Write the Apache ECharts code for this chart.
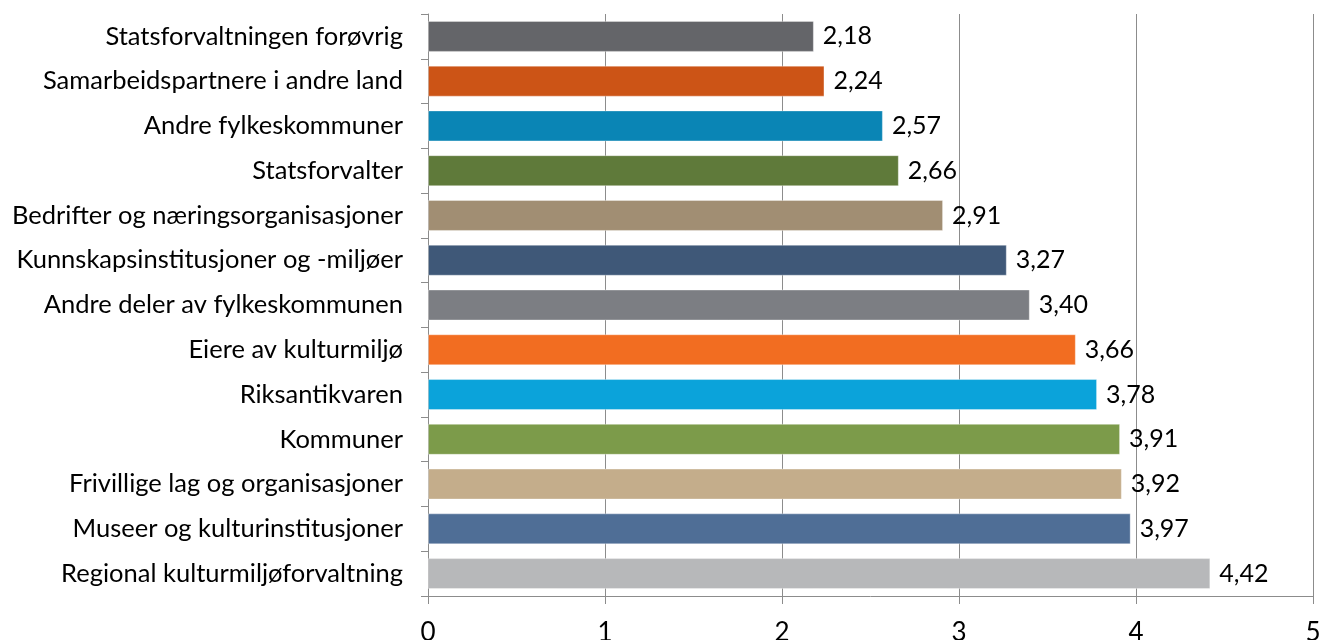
<!DOCTYPE html>
<html>
<head>
<meta charset="utf-8">
<script src="https://cdn.jsdelivr.net/npm/echarts@6/dist/echarts.min.js"></script>
<style>html,body{margin:0;padding:0;background:#fff;}#c{width:1330px;height:640px;}</style>
</head>
<body>
<div id="c"></div>
<script>
const categories = [
  "Statsforvaltningen forøvrig",
  "Samarbeidspartnere i andre land",
  "Andre fylkeskommuner",
  "Statsforvalter",
  "Bedrifter og næringsorganisasjoner",
  "Kunnskapsinstitusjoner og -miljøer",
  "Andre deler av fylkeskommunen",
  "Eiere av kulturmiljø",
  "Riksantikvaren",
  "Kommuner",
  "Frivillige lag og organisasjoner",
  "Museer og kulturinstitusjoner",
  "Regional kulturmiljøforvaltning"
];
const values = [2.18, 2.24, 2.57, 2.66, 2.91, 3.27, 3.40, 3.66, 3.78, 3.91, 3.92, 3.97, 4.42];
const colors = ["#646569", "#CC5416", "#0A85B5", "#5F7A3A", "#A18E73", "#3F5878", "#7C7E83", "#F26D21", "#0BA3DA", "#7C9B4A", "#C4AD8B", "#4F6E96", "#B7B8BA"];
const xTicks = [0, 1, 2, 3, 4, 5];

const FONT = "Lato";
const chart = echarts.init(document.getElementById('c'), null, {renderer: 'canvas'});
chart.setOption({
  animation: false,
  backgroundColor: '#ffffff',
  grid: {left: 428, right: 17, top: 14, bottom: 44, containLabel: false, outerBoundsMode: 'none'},
  xAxis: {
    type: 'value', min: xTicks[0], max: xTicks[xTicks.length - 1], interval: 1,
    axisLine: {show: true, lineStyle: {color: '#8c8c8c', width: 1}},
    axisTick: {show: true, length: 8, lineStyle: {color: '#8c8c8c'}},
    splitLine: {show: true, lineStyle: {color: '#8c8c8c', width: 1}},
    axisLabel: {margin: 24, color: '#000', fontSize: 26, fontFamily: FONT}
  },
  yAxis: {
    type: 'category', data: categories, inverse: true,
    axisLine: {show: true, lineStyle: {color: '#8c8c8c', width: 1}},
    axisTick: {show: true, length: 7, alignWithLabel: false, lineStyle: {color: '#8c8c8c'}},
    axisLabel: {margin: 25, color: '#000', fontSize: 25.5, fontFamily: FONT}
  },
  series: [{
    type: 'bar',
    barWidth: 31,
    data: values.map((v, i) => ({
      value: v,
      itemStyle: {color: colors[i], borderColor: 'rgba(255,255,255,0.35)', borderWidth: 1}
    })),
    label: {
      show: true, position: 'right', distance: 9, color: '#000', fontSize: 25, fontFamily: FONT,
      formatter: p => p.value.toFixed(2).replace('.', ',')
    }
  }]
});
</script>
</body>
</html>
